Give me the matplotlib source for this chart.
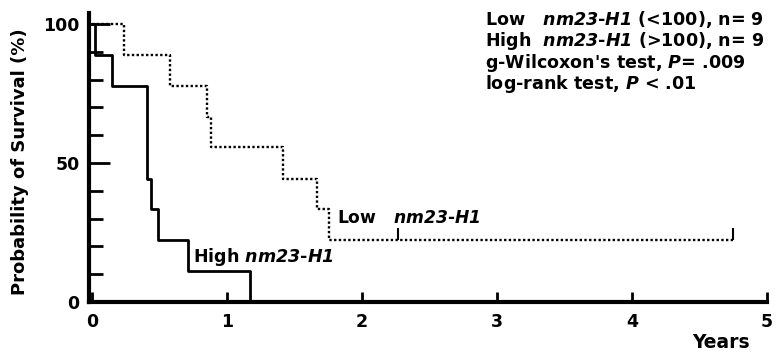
import matplotlib
matplotlib.use("Agg")
import matplotlib.pyplot as plt

plt.rcParams['font.family'] = ['DejaVu Sans']
plt.rcParams['font.weight'] = 'bold'
plt.rcParams['mathtext.fontset'] = 'custom'
plt.rcParams['mathtext.it'] = 'DejaVu Sans:bold:italic'
plt.rcParams['mathtext.rm'] = 'DejaVu Sans:bold:italic'

# Kaplan-Meier steps (years, % survival)
high_t = [0, 0.02, 0.15, 0.41, 0.44, 0.49, 0.71, 1.17]
high_s = [100, 88.9, 77.8, 44.4, 33.3, 22.2, 11.1, 0]
low_t = [0, 0.237, 0.578, 0.85, 0.88, 1.417, 1.665, 1.755, 4.75]
low_s = [100, 88.9, 77.8, 66.7, 55.6, 44.4, 33.3, 22.2, 22.2]
low_censor = [2.27, 4.75]
low_censor_s = [22.2, 22.2]

legend_lines = [
    r"Low   $nm23$-$H1$ (<100), n= 9",
    r"High  $nm23$-$H1$ (>100), n= 9",
    r"g-Wilcoxon's test, $P$= .009",
    r"log-rank test, $P$ < .01",
]

fig = plt.figure(figsize=(7.82, 3.55), dpi=100)
ax = fig.add_axes([89.3 / 782, 1 - 302 / 355, 677.7 / 782, 289 / 355])

ax.step(high_t, high_s, where='post', color='black', lw=2.0)
ax.step(low_t, low_s, where='post', color='black', lw=1.7, linestyle=(0, (1, 1)))
ax.vlines(low_censor, low_censor_s, [s + 4.5 for s in low_censor_s], color='black', lw=1.5)

ax.set_xlim(-0.02, 5)
ax.set_ylim(0, 104)
ax.set_xticks([0, 1, 2, 3, 4, 5])
ax.set_yticks([0, 50, 100])
ax.set_yticks([10, 20, 30, 40, 60, 70, 80, 90], minor=True)

for side in ['top', 'right']:
    ax.spines[side].set_visible(False)
for side in ['left', 'bottom']:
    ax.spines[side].set_linewidth(3)

ax.tick_params(axis='y', which='major', direction='in', length=15, width=2, pad=7, labelsize=12.5)
ax.tick_params(axis='y', which='minor', direction='in', length=10, width=2)
ax.tick_params(axis='x', which='major', direction='in', length=7, width=2, pad=8, labelsize=12.5)
for lab in ax.get_xticklabels() + ax.get_yticklabels():
    lab.set_fontweight('bold')

ax.text(1.815, 30.2, r"Low   $nm23$-$H1$", fontsize=12.3, va='center', ha='left')
ax.text(0.748, 16.2, r"High $nm23$-$H1$", fontsize=12.6, va='center', ha='left')

for i, line in enumerate(legend_lines):
    ax.text(0.584, 0.976 - i * 0.074, line, transform=ax.transAxes,
            fontsize=12.6, va='center', ha='left')

fig.text(20 / 782, 1 - 162 / 355, "Probability of Survival (%)", rotation=90,
         fontsize=13, fontweight='bold', va='center', ha='center')
fig.text(721 / 782, 1 - 343 / 355, "Years", fontsize=13.5, fontweight='bold',
         va='center', ha='center')

fig.savefig("out.png", dpi=100)
